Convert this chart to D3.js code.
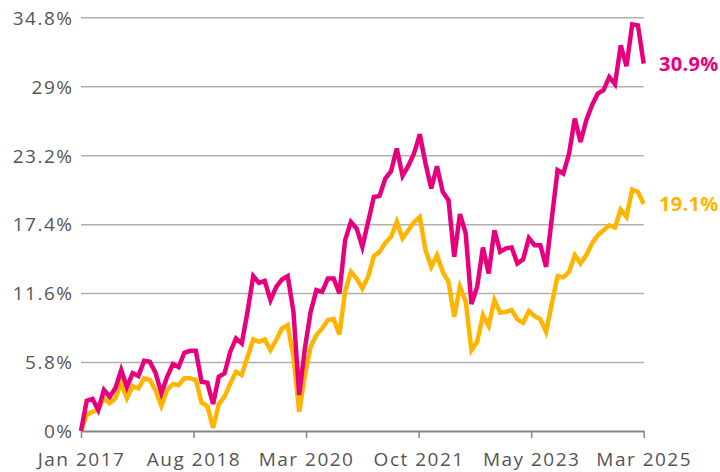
<!DOCTYPE html>
<html>
<head>
    <meta charset="utf-8">
    <title>Cumulative return</title>
    <style>
        body { margin: 0; background: #ffffff; }
        #chart { display: block; }
        .tick-label { font-family: "Open Sans", sans-serif; font-size: 19px; letter-spacing: 1.5px; fill: #555555; }
        .end-label { font-family: "Open Sans", sans-serif; font-size: 20px; font-weight: 700; letter-spacing: 0.3px; }
    </style>
    <script src="https://d3js.org/d3.v7.min.js"></script>
</head>
<body>
    <svg id="chart" width="720" height="472"></svg>
    <script>
        // monthly, Jan 2017 .. Mar 2025 (99 points)
        var pinkValues = [
            0, 2.55, 2.69, 1.77, 3.45, 2.88, 3.61, 5.13, 3.70, 4.87,
            4.62, 5.91, 5.82, 4.87, 3.19, 4.56, 5.63, 5.38, 6.58, 6.75,
            6.75, 4.14, 4.06, 2.27, 4.56, 4.85, 6.67, 7.79, 7.37, 10.03,
            13.03, 12.46, 12.63, 11.01, 12.13, 12.75, 13.03, 10.03, 3.03, 6.98,
            10.03, 11.85, 11.71, 12.83, 12.83, 11.57, 16.05, 17.59, 17.04, 15.49,
            17.59, 19.69, 19.78, 21.24, 21.85, 23.76, 21.46, 22.30, 23.34, 24.96,
            22.50, 20.40, 22.27, 20.11, 19.42, 14.65, 18.24, 16.62, 10.67, 12.13,
            15.44, 13.25, 16.89, 15.07, 15.36, 15.44, 14.10, 14.43, 16.22, 15.63,
            15.63, 13.81, 17.90, 21.94, 21.66, 23.34, 26.28, 24.32, 26.14, 27.40,
            28.38, 28.66, 29.78, 29.17, 32.44, 30.68, 34.21, 34.12, 30.9
        ];
        var yellowValues = [
            0, 1.34, 1.62, 1.77, 2.75, 2.33, 2.75, 4.01, 2.75, 3.78,
            3.59, 4.43, 4.29, 3.39, 2.10, 3.45, 3.95, 3.87, 4.43, 4.43,
            4.29, 2.38, 2.10, 0.25, 2.27, 2.88, 4.01, 4.98, 4.71, 6.24,
            7.71, 7.51, 7.71, 6.81, 7.65, 8.63, 8.91, 6.24, 1.62, 4.71,
            7.09, 8.07, 8.63, 9.33, 9.41, 8.13, 11.71, 13.39, 12.83, 11.99,
            12.97, 14.71, 15.07, 15.83, 16.33, 17.59, 16.20, 16.89, 17.57, 18.01,
            15.21, 13.81, 14.79, 13.39, 12.55, 9.61, 12.13, 10.87, 6.81, 7.51,
            9.75, 8.83, 11.01, 9.94, 10.03, 10.17, 9.39, 9.10, 10.09, 9.67,
            9.39, 8.35, 10.73, 13.03, 12.92, 13.39, 14.79, 14.10, 14.79, 15.78,
            16.47, 16.89, 17.31, 17.12, 18.63, 18.01, 20.31, 20.11, 19.1
        ];
        var xTickLabels = ["Jan 2017", "Aug 2018", "Mar 2020", "Oct 2021", "May 2023", "Mar 2025"];
        var yTicks = [0, 5.8, 11.6, 17.4, 23.2, 29, 34.8];

        var pinkColor = "#e6007e";
        var yellowColor = "#ffb500";

        var svg = d3.select("#chart");
        var n = pinkValues.length;

        var x = d3.scaleLinear().domain([0, n - 1]).range([81, 643.7]);
        var y = d3.scaleLinear().domain([0, 34.8]).range([431, 17.3]);

        // gridlines + y labels
        var yAxis = d3.axisLeft(y)
            .tickValues(yTicks)
            .tickSize(0)
            .tickPadding(7.5)
            .tickFormat(function(d) { return d3.format("~g")(d) + "%"; });

        var gy = svg.append("g")
            .attr("transform", "translate(81,0)")
            .call(yAxis);
        gy.select(".domain").remove();
        gy.selectAll("text")
            .attr("class", "tick-label")
            .attr("dy", "0.36em")
            .attr("font-family", null)
            .attr("font-size", null);
        gy.selectAll(".tick").filter(function(d) { return d > 0; })
            .append("line")
            .attr("x1", 0)
            .attr("x2", 643.7 - 81)
            .attr("stroke", "#b0b0b0")
            .attr("stroke-width", 1.5);

        // x axis, labels spread evenly over the months
        var xTickPos = xTickLabels.map(function(d, i) { return i * (n - 1) / (xTickLabels.length - 1); });
        var xAxis = d3.axisBottom(x)
            .tickValues(xTickPos)
            .tickSize(7)
            .tickSizeOuter(0)
            .tickPadding(15)
            .tickFormat(function(d, i) { return xTickLabels[i]; });

        var gx = svg.append("g")
            .attr("transform", "translate(0,431)")
            .call(xAxis);
        gx.select(".domain").attr("stroke", "#858585").attr("stroke-width", 2);
        gx.selectAll(".tick line").attr("stroke", "#858585").attr("stroke-width", 1.5);
        gx.selectAll("text")
            .attr("class", "tick-label")
            .attr("font-family", null)
            .attr("font-size", null);

        var line = d3.line()
            .x(function(d, i) { return x(i); })
            .y(function(d) { return y(d); });

        svg.append("path")
            .datum(yellowValues)
            .attr("d", line)
            .attr("fill", "none")
            .attr("stroke", yellowColor)
            .attr("stroke-width", 4.5);

        svg.append("path")
            .datum(pinkValues)
            .attr("d", line)
            .attr("fill", "none")
            .attr("stroke", pinkColor)
            .attr("stroke-width", 4.5);

        // end labels
        [[pinkValues, pinkColor], [yellowValues, yellowColor]].forEach(function(s) {
            var last = s[0][n - 1];
            svg.append("text")
                .attr("class", "end-label")
                .attr("x", 659)
                .attr("y", y(last))
                .attr("dy", "0.36em")
                .attr("fill", s[1])
                .text(last.toFixed(1) + "%");
        });
    </script>
</body>
</html>
